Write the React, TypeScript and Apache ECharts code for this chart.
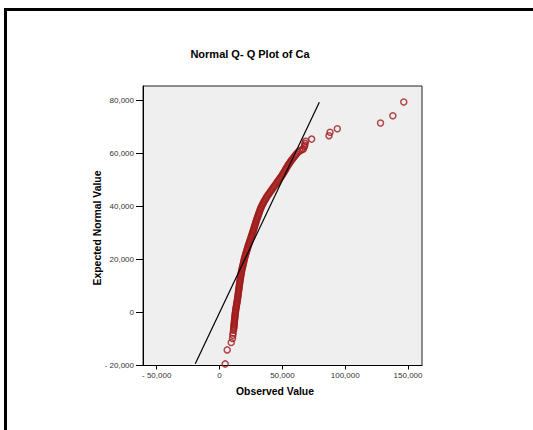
import React, { useEffect, useRef } from "react";
import * as echarts from "echarts";

const titleText = "Normal Q- Q Plot of Ca";
const xTitle = "Observed Value";
const yTitle = "Expected Normal Value";

const xTickValues = [-50000, 0, 50000, 100000, 150000];
const yTickValues = [-20000, 0, 20000, 40000, 60000, 80000];

const observedValues = [
  4500, 6100, 9300, 10300, 10600, 10800, 11100, 11300, 11400,
  11500, 11600, 11700, 11800, 11900, 12050, 12150, 12250, 12350, 12480,
  12600, 12750, 12900, 13050, 13250, 13400, 13600, 13750, 13950, 14100,
  14300, 14450, 14580, 14720, 14850, 15000, 15150, 15280, 15420, 15560,
  15700, 15850, 16000, 16150, 16300, 16460, 16620, 16780, 16950, 17120,
  17300, 17500, 17720, 17950, 18200, 18450, 18700, 18950, 19200, 19400,
  19600, 19900, 20200, 20500, 20800, 21100, 21450, 21750, 22050, 22400,
  22700, 23050, 23400, 23750, 24100, 24450, 24800, 25150, 25500, 25850,
  26200, 26550, 26900, 27200, 27500, 27850, 28150, 28500, 28850, 29150,
  29500, 29850, 30250, 30600, 30950, 31350, 31700, 32100, 32500, 32900,
  33300, 33850, 34400, 34950, 35500, 36100, 36750, 37350, 38000, 38750,
  39500, 40250, 41000, 41750, 42500, 43250, 44000, 44750, 45500, 46250,
  47000, 47750, 48500, 49250, 50000, 50600, 51250, 51900, 52500, 53100,
  53750, 54400, 55000, 55750, 56500, 57250, 58000, 58850, 59700, 60550,
  61400,
  62500, 64000, 65500, 66700, 67500, 67800, 68000, 68500, 73300, 87100,
  87900, 93700, 128100, 137900, 146600,
];

// Expected normal values (y) of the same points
const expectedValues = [
  -19400, -14100, -11300, -9800, -8600, -7700, -6700, -6000, -5500,
  -5000, -4500, -4000, -3500, -3000, -2500, -2000, -1500, -1000, -500,
  0, 500, 1000, 1500, 2000, 2500, 3000, 3500, 4000, 4500,
  5000, 5500, 6000, 6500, 7000, 7500, 8000, 8500, 9000, 9500,
  10000, 10500, 11000, 11500, 12000, 12500, 13000, 13500, 14000, 14500,
  15000, 15500, 16000, 16500, 17000, 17500, 18000, 18500, 19000, 19500,
  20000, 20500, 21000, 21500, 22000, 22500, 23000, 23500, 24000, 24500,
  25000, 25500, 26000, 26500, 27000, 27500, 28000, 28500, 29000, 29500,
  30000, 30500, 31000, 31500, 32000, 32500, 33000, 33500, 34000, 34500,
  35000, 35500, 36000, 36500, 37000, 37500, 38000, 38500, 39000, 39500,
  40000, 40500, 41000, 41500, 42000, 42500, 43000, 43500, 44000, 44500,
  45000, 45500, 46000, 46500, 47000, 47500, 48000, 48500, 49000, 49500,
  50000, 50500, 51000, 51500, 52000, 52500, 53000, 53500, 54000, 54500,
  55000, 55500, 56000, 56500, 57000, 57500, 58000, 58500, 59000, 59500,
  60000,
  60600, 61100, 61500, 61800, 62600, 63200, 63900, 64700, 65500, 66800,
  68100, 69400, 71600, 74300, 79500,
];

// Reference line (y = x) end points
const refLineX = [-19300, 79400];
const refLineY = [-19300, 79400];

const FONT = "'Liberation Sans', Arial, Helvetica, sans-serif";

function fmt(v: number): string {
  const s = Math.abs(v).toLocaleString("en-US");
  return v < 0 ? "- " + s : s;
}

export default function App() {
  const ref = useRef<HTMLDivElement>(null);
  useEffect(() => {
    if (!ref.current) return;
    const chart = echarts.init(ref.current, null, { renderer: "svg" });
    const points = observedValues.map((x, i) => [x, expectedValues[i]]);
    const line = refLineX.map((x, i) => [x, refLineY[i]]);
    chart.setOption({
      animation: false,
      backgroundColor: "transparent",
      textStyle: { fontFamily: FONT },
      grid: {
        left: 143,
        top: 86,
        right: 111,
        bottom: 64.5,
        show: true,
        backgroundColor: "#efefef",
        borderColor: "#222",
        borderWidth: 1,
      },
      xAxis: {
        type: "value",
        min: -60900,
        max: 161100,
        splitLine: { show: false },
        axisLine: { show: true, onZero: false, lineStyle: { color: "#000", width: 1 } },
        axisTick: { show: true, length: 4, customValues: xTickValues, lineStyle: { color: "#000" } },
        axisLabel: {
          customValues: xTickValues,
          formatter: (v: number) => fmt(v),
          fontSize: 8,
          color: "#333",
          margin: 6,
          fontFamily: FONT,
        },
      },
      yAxis: {
        type: "value",
        min: -20000,
        max: 85560,
        splitLine: { show: false },
        axisLine: { show: true, onZero: false, lineStyle: { color: "#000", width: 1 } },
        axisTick: { show: true, length: 7, customValues: yTickValues, lineStyle: { color: "#000" } },
        axisLabel: {
          customValues: yTickValues,
          formatter: (v: number) => fmt(v),
          fontSize: 8,
          color: "#333",
          margin: 9,
          fontFamily: FONT,
        },
      },
      series: [
        {
          type: "line",
          data: line,
          symbol: "none",
          lineStyle: { color: "#000", width: 1.2 },
          z: 3,
        },
        {
          type: "scatter",
          data: points,
          symbol: "circle",
          symbolSize: 6,
          itemStyle: {
            color: "rgba(0,0,0,0)",
            borderColor: "#a01c1c",
            borderWidth: 1.5,
          },
          z: 2,
        },
      ],
      graphic: [
        {
          type: "text",
          x: 250,
          y: 54,
          style: {
            text: titleText,
            fontFamily: FONT,
            fontSize: 11,
            fontWeight: "bold",
            fill: "#000",
            align: "center",
            verticalAlign: "middle",
          },
        },
        {
          type: "text",
          x: 275,
          y: 391,
          style: {
            text: xTitle,
            fontFamily: FONT,
            fontSize: 10.4,
            fontWeight: "bold",
            fill: "#000",
            align: "center",
            verticalAlign: "middle",
          },
        },
        {
          type: "text",
          x: 97,
          y: 228,
          rotation: Math.PI / 2,
          style: {
            text: yTitle,
            fontFamily: FONT,
            fontSize: 10.4,
            fontWeight: "bold",
            fill: "#000",
            align: "center",
            verticalAlign: "middle",
          },
        },
      ],
    });
    return () => chart.dispose();
  }, []);
  return (
    <div
      style={{
        position: "fixed",
        left: 0,
        top: 0,
        width: 533,
        height: 430,
        overflow: "hidden",
        background: "#ffffff",
      }}
    >
      <div
        style={{
          position: "absolute",
          left: 4,
          top: 7.5,
          width: 600,
          height: 600,
          borderLeft: "3px solid #000",
          borderTop: "3px solid #000",
          pointerEvents: "none",
        }}
      />
      <div
        ref={ref}
        style={{ position: "absolute", left: 0, top: 0, width: 533, height: 430 }}
      />
    </div>
  );
}
